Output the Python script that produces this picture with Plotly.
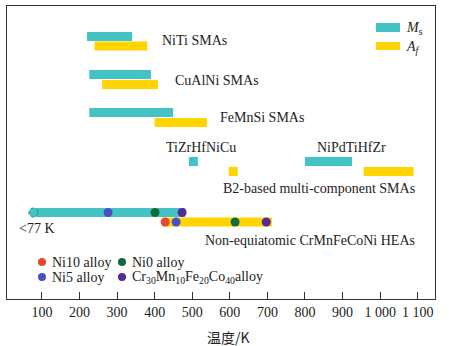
import plotly.graph_objects as go

# ---------------- data ----------------
alloys = ["NiTi SMAs", "CuAlNi SMAs", "FeMnSi SMAs", "TiZrHfNiCu", "NiPdTiHfZr", "CrMnFeCoNi HEAs"]
ms_start = [220, 226, 226, 491, 800, 72]
ms_end = [340, 390, 449, 515, 925, 481]
af_start = [240, 260, 400, 597, 956, 420]
af_end = [380, 409, 539, 621, 1089, 712]

hea_names = ["Ni10 alloy", "Ni0 alloy", "Ni5 alloy", "Cr<sub>30</sub>Mn<sub>10</sub>Fe<sub>20</sub>Co<sub>40</sub>alloy"]
hea_ms = [None, 401, 276, 473]   # Ms of each alloy (Ni10 below 77 K)
hea_af = [428, 614, 457, 697]
low_ms = 77

tick_vals = [100, 200, 300, 400, 500, 600, 700, 800, 900, 1000, 1100]
tick_text = ["100", "200", "300", "400", "500", "600", "700", "800", "900", "1 000", "1 100"]

# ---------------- style / layout ----------------
TEAL = "#44c3c4"
YELLOW = "#ffd400"
hea_colors = ["#e8472c", "#116b3c", "#4b50c8", "#552a98"]
SERIF = "Liberation Serif, Times New Roman, serif"

W, H = 449, 346
L, R, T, B = 7, 435, 6, 299
XR = [7, 1146]

# vertical row centres (pixel rows in plot, y axis is pixel-like and reversed)
ms_row = [36.5, 74.5, 112.5, 161.5, 161.5, 212.5]
af_row = [46, 84.5, 122.5, 171.5, 171.5, 222]
BAR_W = 9


def px2x(px):
    return XR[0] + (px - L) / (R - L) * (XR[1] - XR[0])


def py2y(py):
    return py - T


fig = go.Figure()
fig.add_trace(go.Bar(orientation="h", y=[py2y(v) for v in ms_row],
                     base=ms_start, x=[e - s for s, e in zip(ms_start, ms_end)],
                     width=BAR_W, marker=dict(color=TEAL, line=dict(width=0)),
                     showlegend=False, hoverinfo="skip"))
fig.add_trace(go.Bar(orientation="h", y=[py2y(v) for v in af_row],
                     base=af_start, x=[e - s for s, e in zip(af_start, af_end)],
                     width=BAR_W, marker=dict(color=YELLOW, line=dict(width=0)),
                     showlegend=False, hoverinfo="skip"))

# HEA markers
for name, c, m, a in zip(hea_names, hea_colors, hea_ms, hea_af):
    xs, ys = [], []
    if m is not None:
        xs.append(m); ys.append(py2y(ms_row[5]))
    xs.append(a); ys.append(py2y(af_row[5]))
    fig.add_trace(go.Scatter(x=xs, y=ys, mode="markers",
                             marker=dict(color=c, size=9, line=dict(width=0)),
                             showlegend=False, hoverinfo="skip"))

shapes = []
# dashed circle at 77 K
shapes.append(dict(type="circle", xref="x", yref="y", xsizemode="pixel", ysizemode="pixel",
                   xanchor=low_ms, yanchor=py2y(ms_row[5]), x0=-4.5, x1=4.5, y0=-4.5, y1=4.5,
                   line=dict(color="#2e8f66", width=1, dash="dot"), fillcolor=TEAL))

# legend markers for alloys
leg_pos = [(42, 262), (122, 262), (42, 277), (122, 277)]
leg_txt = [(50, 262), (130, 262), (50, 277), (130, 277)]
fig.add_trace(go.Scatter(x=[px2x(p[0]) for p in leg_pos], y=[py2y(p[1]) for p in leg_pos],
                         mode="markers", marker=dict(color=hea_colors, size=8, line=dict(width=0)),
                         showlegend=False, hoverinfo="skip"))

# Ms / Af legend swatches
shapes.append(dict(type="rect", xref="x", yref="y", x0=px2x(376), x1=px2x(400),
                   y0=py2y(23), y1=py2y(32), fillcolor=TEAL, line=dict(width=0)))
shapes.append(dict(type="rect", xref="x", yref="y", x0=px2x(376), x1=px2x(400),
                   y0=py2y(42), y1=py2y(50), fillcolor=YELLOW, line=dict(width=0)))

ann = []


def text(px, py, s, size=14, anchor="left"):
    ann.append(dict(x=px2x(px), y=py2y(py), xref="x", yref="y", text=s, showarrow=False,
                    xanchor=anchor, yanchor="middle", font=dict(family=SERIF, size=size, color="#222")))


text(160, 40, alloys[0])
text(173, 80, alloys[1])
text(218, 117, alloys[2])
text(164, 147, alloys[3])
text(315, 147, alloys[4])
text(221, 188, "B2-based multi-component SMAs")
text(17, 228, "&lt;77 K")
text(203, 240, "Non-equiatomic " + alloys[5])
for (tx, ty), nm in zip(leg_txt, hea_names):
    text(tx, ty, nm)
text(404, 28, "<i>M</i><sub>s</sub>")
text(404, 47, "<i>A</i><sub><i>f</i></sub>")

ann.append(dict(x=228, y=337, xref="paper", yref="paper", text="温度/K", showarrow=False,
                font=dict(family="Noto Sans CJK SC", size=14, color="#222")))
ann[-1].update(x=(228 - L) / (R - L), y=(B - 337) / (B - T), xanchor="center", yanchor="middle")

fig.update_layout(
    width=W, height=H, margin=dict(l=L, r=W - R, t=T, b=H - B),
    paper_bgcolor="white", plot_bgcolor="white",
    barmode="overlay", showlegend=False,
    shapes=shapes, annotations=ann,
    xaxis=dict(range=XR, tickvals=tick_vals, ticktext=tick_text, ticks="inside", ticklen=7,
               tickcolor="#333", showgrid=False, zeroline=False, showline=True, linecolor="#333",
               linewidth=1, mirror=True, tickfont=dict(family=SERIF, size=14, color="#222")),
    yaxis=dict(range=[B - T, 0], showticklabels=False, ticks="", showgrid=False, zeroline=False,
               showline=True, linecolor="#333", linewidth=1, mirror=True),
)

fig.write_html("out.html")
